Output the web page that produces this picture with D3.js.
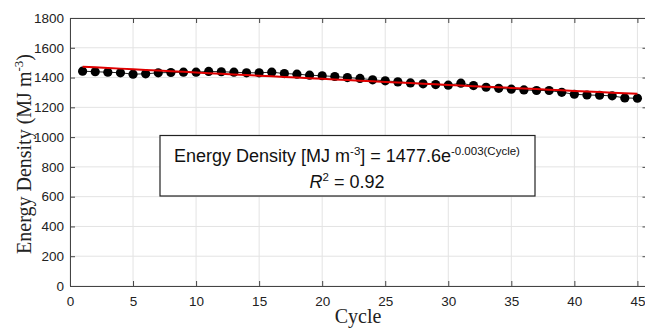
<!DOCTYPE html>
<html><head><meta charset="utf-8">
<script src="https://cdn.jsdelivr.net/npm/d3@7"></script>
<style>body{margin:0;background:#fff}svg{display:block}</style>
</head><body>
<svg id="c" width="645" height="329"></svg>
<script>
const cycles = d3.range(1, 46);
const energy = [1443,1439,1436,1432,1423,1425,1432,1434,1436,1436,1441,1439,1436,1432,1432,1436,1427,1423,1416,1412,1407,1400,
  1394,1385,1378,1371,1364,1358,1353,1349,1362,1346,1335,1328,1322,1317,1313,1313,1301,1288,1283,1281,1277,1263,1261];
const fitA = 1477.6, fitB = -0.003;
const xTicks = [0,5,10,15,20,25,30,35,40,45];
const yTicks = [0,200,400,600,800,1000,1200,1400,1600,1800];

const svg = d3.select("#c");
const L=70, R=647.5, T=18, B=286;
const x = d3.scaleLinear().domain([0,45.8]).range([L,R]);
const y = d3.scaleLinear().domain([0,1800]).range([B,T]);

// grid
svg.append("g").selectAll("line").data(xTicks).join("line")
  .attr("x1",d=>x(d)).attr("x2",d=>x(d)).attr("y1",T).attr("y2",B)
  .attr("stroke","#e3e3e3").attr("stroke-width",1);
svg.append("g").selectAll("line").data(yTicks).join("line")
  .attr("y1",d=>y(d)).attr("y2",d=>y(d)).attr("x1",L).attr("x2",R)
  .attr("stroke","#e3e3e3").attr("stroke-width",1);

// axes
const fmt = d3.format("d");
svg.append("g").attr("transform",`translate(0,${B})`)
  .call(d3.axisBottom(x).tickValues(xTicks).tickFormat(fmt).tickSizeInner(-5).tickSizeOuter(0).tickPadding(10));
svg.append("g").attr("transform",`translate(${L},0)`)
  .call(d3.axisLeft(y).tickValues(yTicks).tickFormat(fmt).tickSizeInner(-5).tickSizeOuter(0).tickPadding(6));
svg.append("g").attr("transform",`translate(0,${T})`)
  .call(d3.axisTop(x).tickValues(xTicks).tickSizeInner(-5).tickSizeOuter(0).tickFormat(""));
svg.append("g").attr("transform",`translate(${R},0)`)
  .call(d3.axisRight(y).tickValues(yTicks).tickSizeInner(-5).tickSizeOuter(0).tickFormat(""));
svg.selectAll(".domain").attr("stroke","#444");
svg.selectAll(".tick line").attr("stroke","#444");
svg.selectAll(".tick text").attr("font-family","Liberation Sans, Arial, sans-serif").attr("font-size",13.5).attr("fill","#222");

// data line + points
const pts = cycles.map((c,i)=>[c,energy[i]]);
svg.append("path").datum(pts)
  .attr("d", d3.line().x(d=>x(d[0])).y(d=>y(d[1])))
  .attr("fill","none").attr("stroke","#222").attr("stroke-width",1);
svg.append("g").selectAll("circle").data(pts).join("circle")
  .attr("cx",d=>x(d[0])).attr("cy",d=>y(d[1])).attr("r",4.6).attr("fill","#000");

// fit line
const fit = cycles.map(c=>[c, fitA*Math.exp(fitB*c)]);
svg.append("path").datum(fit)
  .attr("d", d3.line().x(d=>x(d[0])).y(d=>y(d[1])))
  .attr("fill","none").attr("stroke","#e00000").attr("stroke-width",2);

// annotation box
svg.append("rect").attr("x",160).attr("y",135.5).attr("width",375).attr("height",60.5)
  .attr("fill","#fff").attr("stroke","#222").attr("stroke-width",1.2);
const t1 = svg.append("text").attr("x",347).attr("y",162).attr("text-anchor","middle")
  .attr("font-family","Liberation Sans, Arial, sans-serif").attr("font-size",18).attr("fill","#111");
t1.append("tspan").text("Energy Density [MJ m");
t1.append("tspan").attr("dy",-7).attr("font-size",11.5).text("-3");
t1.append("tspan").attr("dy",7).text("] = 1477.6e");
t1.append("tspan").attr("dy",-7).attr("font-size",11.5).text("-0.003(Cycle)");
const t2 = svg.append("text").attr("x",347).attr("y",188).attr("text-anchor","middle")
  .attr("font-family","Liberation Sans, Arial, sans-serif").attr("font-size",18).attr("fill","#111");
t2.append("tspan").attr("font-style","italic").text("R");
t2.append("tspan").attr("dy",-7).attr("font-size",11.5).text("2");
t2.append("tspan").attr("dy",7).text(" = 0.92");

// axis labels
svg.append("text").attr("x",358).attr("y",323).attr("text-anchor","middle")
  .attr("font-family","Liberation Serif, Times New Roman, serif").attr("font-size",20).attr("fill","#222").text("Cycle");
const yl = svg.append("text").attr("transform","translate(31,154) rotate(-90)").attr("text-anchor","middle")
  .attr("font-family","Liberation Serif, Times New Roman, serif").attr("font-size",20).attr("fill","#222");
yl.append("tspan").text("Energy Density (MJ m");
yl.append("tspan").attr("dy",-8).attr("font-size",13).text("-3");
yl.append("tspan").attr("dy",8).text(")");
</script>
</body></html>
